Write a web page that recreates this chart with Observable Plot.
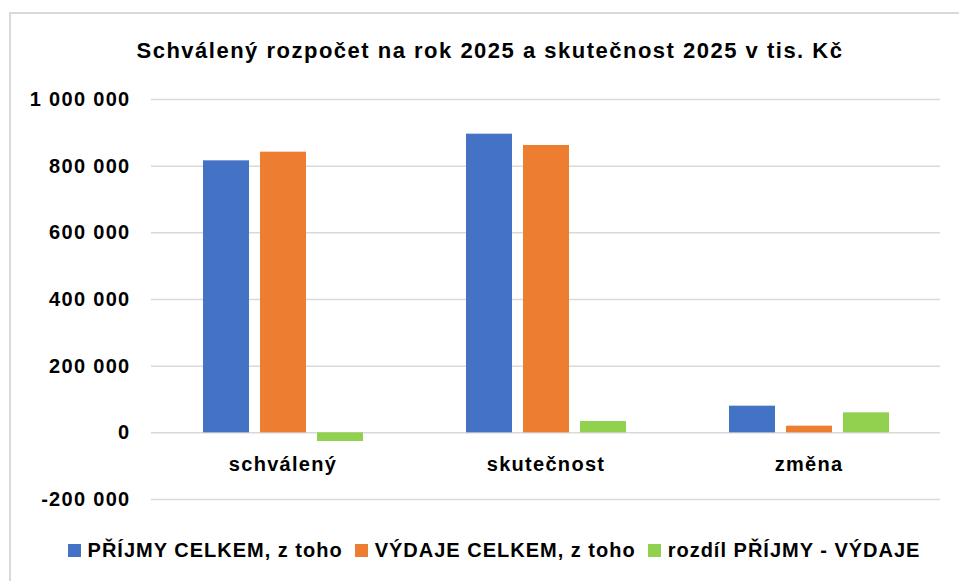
<!DOCTYPE html>
<html>
<head>
<meta charset="utf-8">
<script src="https://cdn.jsdelivr.net/npm/d3@7"></script>
<script src="https://cdn.jsdelivr.net/npm/@observablehq/plot@0.6"></script>
<style>
  html, body { margin: 0; padding: 0; background: #fff; }
  body { width: 959px; height: 581px; position: relative; overflow: hidden; font-family: "Liberation Sans", Arial, sans-serif; }
  #frame { position: absolute; left: 9px; top: 12px; width: 980px; height: 600px; border: 2px solid #d9d9d9; box-sizing: border-box; }
  #title { position: absolute; left: 10px; width: 960px; top: 38px; text-align: center; font-size: 22px; letter-spacing: 1.5px; font-weight: bold; color: #000; white-space: nowrap; }
  #chart { position: absolute; left: 0; top: 0; }
  #chart svg text { letter-spacing: 1.3px; }
  #legend { position: absolute; left: 0; width: 988px; top: 539px; display: flex; justify-content: center; align-items: center; font-size: 20px; letter-spacing: 1px; font-weight: bold; color: #000; white-space: nowrap; }
  .item { display: flex; align-items: center; margin: 0 6px; }
  .sw { width: 13px; height: 13px; margin-right: 7px; }
</style>
</head>
<body>
<div id="frame"></div>
<div id="title">Schválený rozpočet na rok 2025 a skutečnost 2025 v tis. Kč</div>
<div id="chart"></div>
<div id="legend"></div>
<script>
const categories = ["schválený", "skutečnost", "změna"];
const series = ["PŘÍJMY CELKEM, z toho", "VÝDAJE CELKEM, z toho", "rozdíl PŘÍJMY - VÝDAJE"];
const prijmy = [816000, 896000, 80000];
const vydaje = [842000, 862000, 20000];
const rozdil = [-26000, 34000, 60000];
const colors = ["#4472C4", "#ED7D31", "#92D050"];
const yTicks = [-200000, 0, 200000, 400000, 600000, 800000, 1000000];

const values = [prijmy, vydaje, rozdil];
const data = [];
categories.forEach((c, i) => {
  series.forEach((s, j) => data.push({category: c, series: s, value: values[j][i]}));
});

const fmt = d => d3.format(",")(d).replace(/,/g, " ").replace("−", "-");

const chart = Plot.plot({
  width: 959,
  height: 509,
  marginTop: 99,
  marginBottom: 10,
  marginLeft: 150,
  marginRight: 18,
  style: {fontFamily: "'Liberation Sans', Arial, sans-serif", fontSize: "20px", fontWeight: "bold", color: "#000", background: "transparent"},
  fx: {domain: categories, padding: 0, axis: null, label: null},
  x: {domain: series, paddingInner: 0.2, paddingOuter: 0.9, axis: null, label: null},
  y: {domain: [-200000, 1000000], label: null},
  color: {domain: series, range: colors},
  marks: [
    Plot.ruleY(yTicks, {stroke: "#d9d9d9", strokeWidth: 1.5}),
    Plot.barY(data, {fx: "category", x: "series", y: "value", fill: "series"}),
    Plot.axisY({ticks: yTicks, tickSize: 0, tickPadding: 21, tickFormat: fmt, fontSize: 20, fontWeight: "bold", label: null}),
    Plot.text(categories, {fx: d => d, y: 0, text: d => d, dy: 32, fontSize: 20, fontWeight: "bold", fill: "#000"})
  ]
});
document.getElementById("chart").appendChild(chart);

const legend = document.getElementById("legend");
series.forEach((s, i) => {
  const item = document.createElement("div");
  item.className = "item";
  const sw = document.createElement("div");
  sw.className = "sw";
  sw.style.background = colors[i];
  const t = document.createElement("span");
  t.textContent = s;
  item.appendChild(sw);
  item.appendChild(t);
  legend.appendChild(item);
});
</script>
</body>
</html>
